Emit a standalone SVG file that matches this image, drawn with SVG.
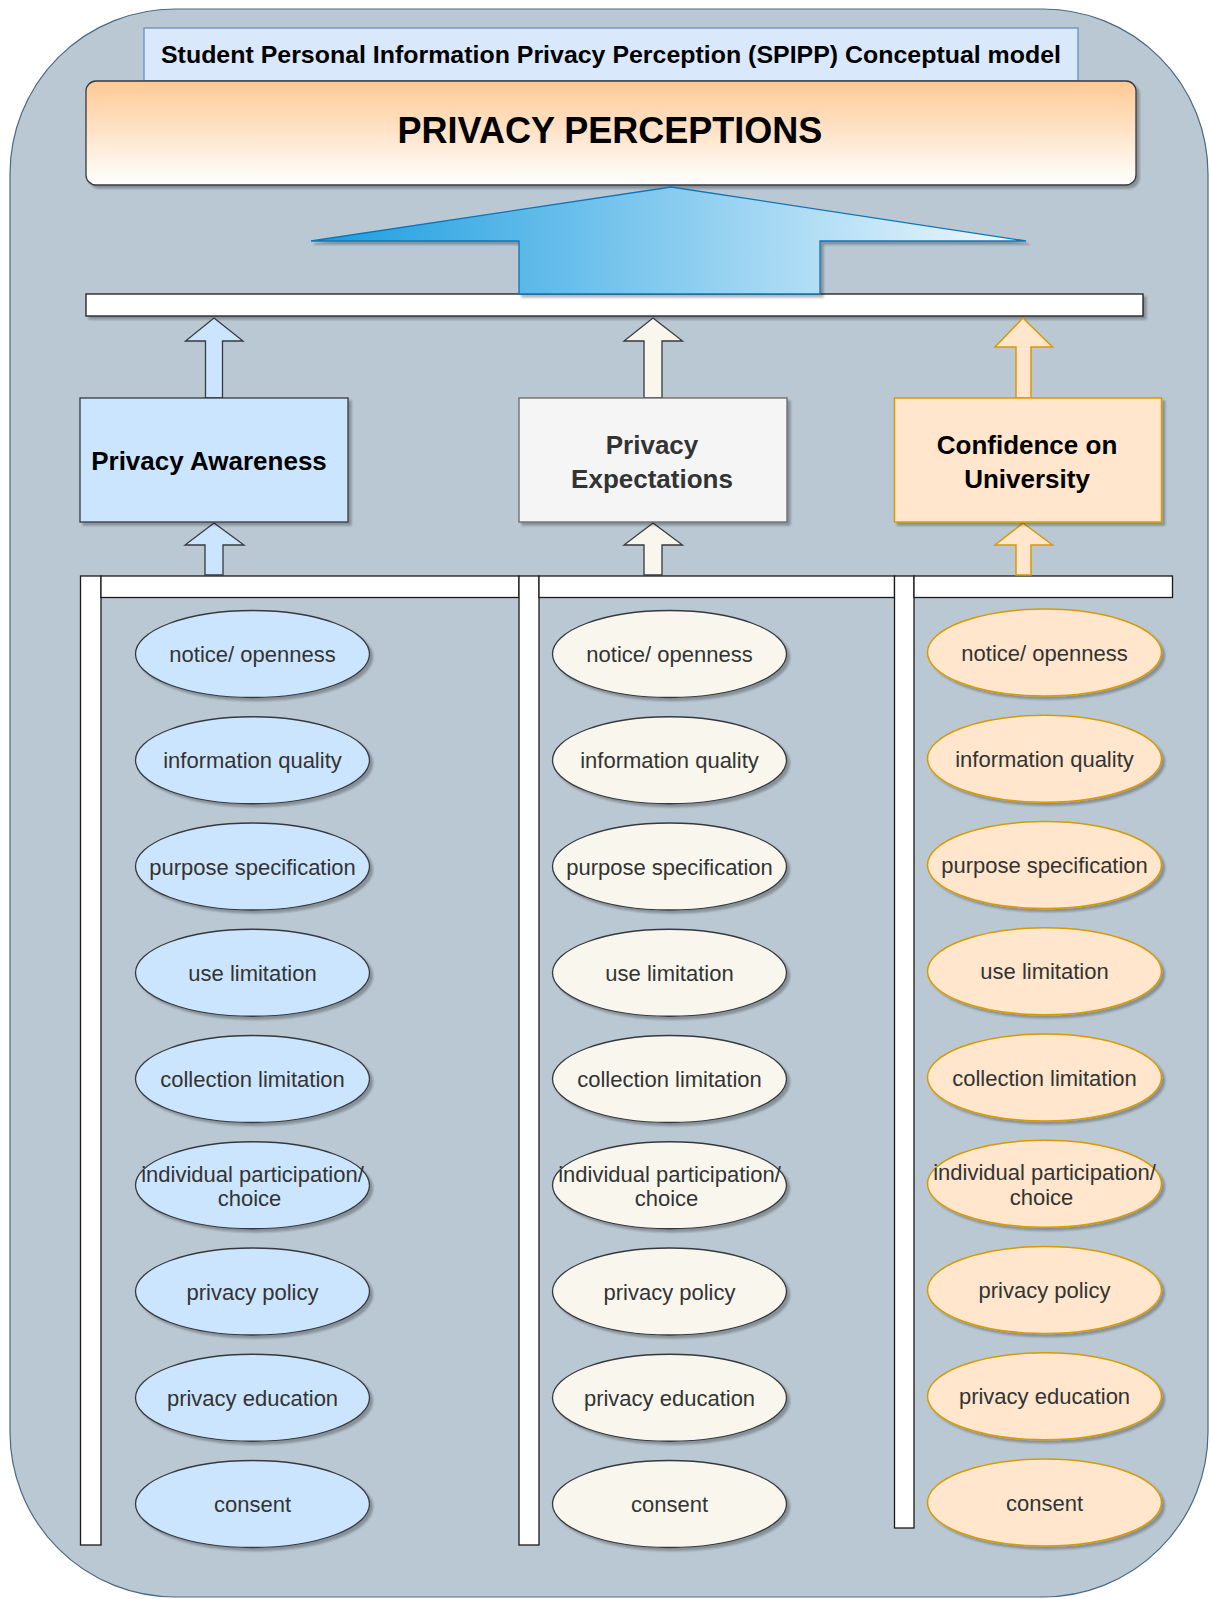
<svg xmlns="http://www.w3.org/2000/svg" width="1210" height="1599" viewBox="0 0 1210 1599">
  <defs>
    <linearGradient id="gradTop" x1="0" y1="0" x2="0" y2="1">
      <stop offset="0" stop-color="#ffc994"/>
      <stop offset="1" stop-color="#ffffff"/>
    </linearGradient>
    <linearGradient id="gradArrow" x1="0" y1="0" x2="1" y2="0">
      <stop offset="0" stop-color="#1a9de0"/>
      <stop offset="1" stop-color="#f2f9fe"/>
    </linearGradient>
    <filter id="shadow" x="-10%" y="-10%" width="130%" height="140%">
      <feDropShadow dx="3" dy="3" stdDeviation="1.2" flood-color="#000000" flood-opacity="0.28"/>
    </filter>
  </defs>
  <style>
    .bar { fill: #ffffff; stroke: #1a1a1a; stroke-width: 1.3; }
    .blue { fill: #cce5ff; stroke: #36393d; stroke-width: 1.3; }
    .cream { fill: #f9f7ed; stroke: #36393d; stroke-width: 1.3; }
    .grey { fill: #f5f5f5; stroke: #666666; stroke-width: 1.3; }
    .orange { fill: #ffe6cc; stroke: #d79b00; stroke-width: 1.5; }
    .sh { filter: url(#shadow); }
    .boxtxt { font-family: "Liberation Sans", Arial, sans-serif; font-size: 26px; font-weight: bold; text-anchor: middle; }
    .ell { font-family: "Liberation Sans", Arial, sans-serif; font-size: 22px; fill: #333333; text-anchor: middle; }
  </style>

  <!-- outer container -->
  <rect id="container" x="10" y="9" width="1198" height="1588" rx="165" ry="165" fill="#bac8d3" stroke="#4a6a84" stroke-width="1.2"/>

  <!-- model title -->
  <g id="title">
    <rect x="144" y="28" width="934" height="53" fill="#dae8fc" stroke="#6c8ebf" stroke-width="1.3"/>
    <text x="611" y="63" font-family="Liberation Sans, Arial, sans-serif" font-size="24" font-weight="bold" text-anchor="middle" textLength="900" lengthAdjust="spacingAndGlyphs">Student Personal Information Privacy Perception (SPIPP) Conceptual model</text>
  </g>

  <!-- top level construct -->
  <g id="privacy-perceptions">
    <rect class="sh" x="86" y="81" width="1050" height="104" rx="10" ry="10" fill="url(#gradTop)" stroke="#36393d" stroke-width="1.3"/>
    <text x="610" y="143" font-family="Liberation Sans, Arial, sans-serif" font-size="36" font-weight="bold" text-anchor="middle">PRIVACY PERCEPTIONS</text>
  </g>

  <!-- collector bars -->
  <g id="bars">
    <rect class="bar sh" x="86" y="294" width="1057" height="22"/>
    <rect class="bar" x="80.5" y="576" width="20.5" height="969"/>
    <rect class="bar" x="101" y="576" width="418" height="21.5"/>
    <rect class="bar" x="519" y="576" width="20" height="969"/>
    <rect class="bar" x="539" y="576" width="355.5" height="21.5"/>
    <rect class="bar" x="894.5" y="576" width="19.5" height="952"/>
    <rect class="bar" x="914" y="576" width="258.5" height="21.5"/>
  </g>

  <!-- connectors -->
  <g id="connectors">
    <polygon class="sh" points="671,187 1026,241 820,241 820,294 519,294 519,241 311,241" fill="url(#gradArrow)" stroke="#0f75b8" stroke-width="1.3"/>
    <polygon class="blue" points="214,318 243,341 222.5,341 222.5,398 205.5,398 205.5,341 185.5,341"/>
    <polygon class="blue" points="214,523 244,545 223,545 223,575 205,575 205,545 185,545"/>
    <polygon class="cream" points="653,318 682.5,341 662,341 662,398 644,398 644,341 624,341"/>
    <polygon class="cream" points="653,523 682.5,545 662,545 662,575 644,575 644,545 624,545"/>
    <polygon class="orange" points="1023,318 1052.5,347 1031,347 1031,398 1016,398 1016,347 995,347"/>
    <polygon class="orange" points="1023,523 1052.5,545 1031,545 1031,575 1016,575 1016,545 995,545"/>
  </g>

  <!-- dimension boxes -->
  <g id="privacy-awareness">
    <rect class="blue sh" x="80" y="398" width="268" height="124"/>
    <text class="boxtxt" x="209" y="470" fill="#000000">Privacy Awareness</text>
  </g>
  <g id="privacy-expectations">
    <rect class="grey sh" x="519" y="398" width="268" height="124"/>
    <text class="boxtxt" x="652" y="454" fill="#333333">Privacy</text>
    <text class="boxtxt" x="652" y="488" fill="#333333">Expectations</text>
  </g>
  <g id="confidence-on-university">
    <rect class="orange sh" x="894.5" y="398" width="267" height="124"/>
    <text class="boxtxt" x="1027" y="454" fill="#000000">Confidence on</text>
    <text class="boxtxt" x="1027" y="488" fill="#000000">University</text>
  </g>

  <!-- Privacy Awareness items -->
  <g id="pa-items">
    <g id="pa-notice"><ellipse class="blue sh" cx="252.5" cy="654" rx="117" ry="43.5"/><text class="ell" x="252.5" y="662">notice/ openness</text></g>
    <g id="pa-quality"><ellipse class="blue sh" cx="252.5" cy="760.25" rx="117" ry="43.5"/><text class="ell" x="252.5" y="768.25">information quality</text></g>
    <g id="pa-purpose"><ellipse class="blue sh" cx="252.5" cy="866.5" rx="117" ry="43.5"/><text class="ell" x="252.5" y="874.5">purpose specification</text></g>
    <g id="pa-use"><ellipse class="blue sh" cx="252.5" cy="972.75" rx="117" ry="43.5"/><text class="ell" x="252.5" y="980.75">use limitation</text></g>
    <g id="pa-collection"><ellipse class="blue sh" cx="252.5" cy="1079" rx="117" ry="43.5"/><text class="ell" x="252.5" y="1087">collection limitation</text></g>
    <g id="pa-participation"><ellipse class="blue sh" cx="252.5" cy="1185.25" rx="117" ry="43.5"/><text class="ell" x="252.5" y="1181.75">individual participation/</text><text class="ell" x="249.5" y="1206.25">choice</text></g>
    <g id="pa-policy"><ellipse class="blue sh" cx="252.5" cy="1291.5" rx="117" ry="43.5"/><text class="ell" x="252.5" y="1299.5">privacy policy</text></g>
    <g id="pa-education"><ellipse class="blue sh" cx="252.5" cy="1397.75" rx="117" ry="43.5"/><text class="ell" x="252.5" y="1405.75">privacy education</text></g>
    <g id="pa-consent"><ellipse class="blue sh" cx="252.5" cy="1504" rx="117" ry="43.5"/><text class="ell" x="252.5" y="1512">consent</text></g>
  </g>

  <!-- Privacy Expectations items -->
  <g id="pe-items">
    <g id="pe-notice"><ellipse class="cream sh" cx="669.5" cy="654" rx="117" ry="43.5"/><text class="ell" x="669.5" y="662">notice/ openness</text></g>
    <g id="pe-quality"><ellipse class="cream sh" cx="669.5" cy="760.25" rx="117" ry="43.5"/><text class="ell" x="669.5" y="768.25">information quality</text></g>
    <g id="pe-purpose"><ellipse class="cream sh" cx="669.5" cy="866.5" rx="117" ry="43.5"/><text class="ell" x="669.5" y="874.5">purpose specification</text></g>
    <g id="pe-use"><ellipse class="cream sh" cx="669.5" cy="972.75" rx="117" ry="43.5"/><text class="ell" x="669.5" y="980.75">use limitation</text></g>
    <g id="pe-collection"><ellipse class="cream sh" cx="669.5" cy="1079" rx="117" ry="43.5"/><text class="ell" x="669.5" y="1087">collection limitation</text></g>
    <g id="pe-participation"><ellipse class="cream sh" cx="669.5" cy="1185.25" rx="117" ry="43.5"/><text class="ell" x="669.5" y="1181.75">individual participation/</text><text class="ell" x="666.5" y="1206.25">choice</text></g>
    <g id="pe-policy"><ellipse class="cream sh" cx="669.5" cy="1291.5" rx="117" ry="43.5"/><text class="ell" x="669.5" y="1299.5">privacy policy</text></g>
    <g id="pe-education"><ellipse class="cream sh" cx="669.5" cy="1397.75" rx="117" ry="43.5"/><text class="ell" x="669.5" y="1405.75">privacy education</text></g>
    <g id="pe-consent"><ellipse class="cream sh" cx="669.5" cy="1504" rx="117" ry="43.5"/><text class="ell" x="669.5" y="1512">consent</text></g>
  </g>

  <!-- Confidence on University items -->
  <g id="cu-items">
    <g id="cu-notice"><ellipse class="orange sh" cx="1044.5" cy="652.5" rx="117" ry="43.5"/><text class="ell" x="1044.5" y="660.5">notice/ openness</text></g>
    <g id="cu-quality"><ellipse class="orange sh" cx="1044.5" cy="758.75" rx="117" ry="43.5"/><text class="ell" x="1044.5" y="766.75">information quality</text></g>
    <g id="cu-purpose"><ellipse class="orange sh" cx="1044.5" cy="865" rx="117" ry="43.5"/><text class="ell" x="1044.5" y="873">purpose specification</text></g>
    <g id="cu-use"><ellipse class="orange sh" cx="1044.5" cy="971.25" rx="117" ry="43.5"/><text class="ell" x="1044.5" y="979.25">use limitation</text></g>
    <g id="cu-collection"><ellipse class="orange sh" cx="1044.5" cy="1077.5" rx="117" ry="43.5"/><text class="ell" x="1044.5" y="1085.5">collection limitation</text></g>
    <g id="cu-participation"><ellipse class="orange sh" cx="1044.5" cy="1183.75" rx="117" ry="43.5"/><text class="ell" x="1044.5" y="1180.25">individual participation/</text><text class="ell" x="1041.5" y="1204.75">choice</text></g>
    <g id="cu-policy"><ellipse class="orange sh" cx="1044.5" cy="1290" rx="117" ry="43.5"/><text class="ell" x="1044.5" y="1298">privacy policy</text></g>
    <g id="cu-education"><ellipse class="orange sh" cx="1044.5" cy="1396.25" rx="117" ry="43.5"/><text class="ell" x="1044.5" y="1404.25">privacy education</text></g>
    <g id="cu-consent"><ellipse class="orange sh" cx="1044.5" cy="1502.5" rx="117" ry="43.5"/><text class="ell" x="1044.5" y="1510.5">consent</text></g>
  </g>
</svg>
